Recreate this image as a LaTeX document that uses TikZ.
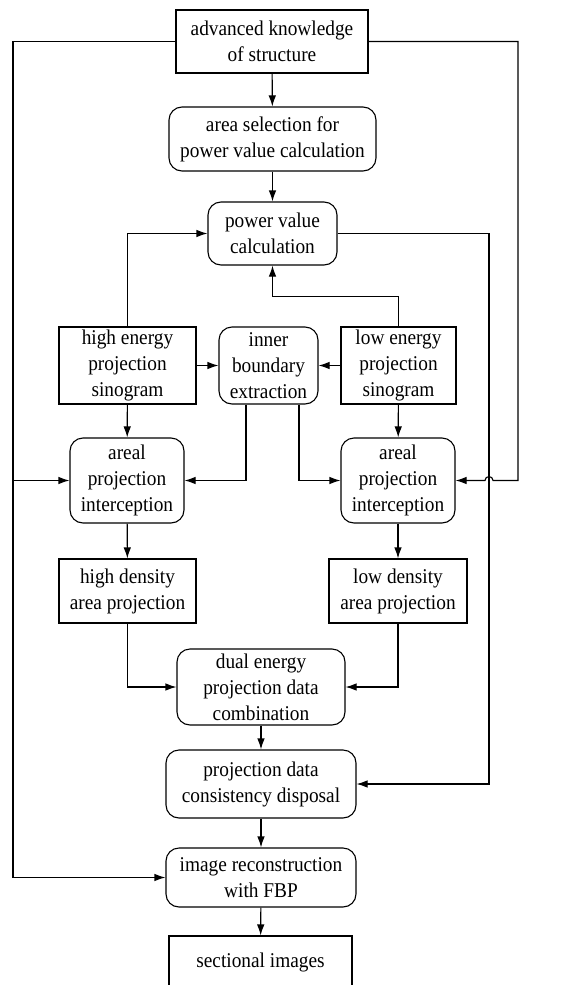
\documentclass[tikz,border=0pt]{standalone}
\usepackage{fontspec}
\setmainfont[FakeStretch=0.92]{Liberation Serif}
\usetikzlibrary{arrows.meta}
\tikzset{
  box/.style={draw, line width=1.1pt, inner sep=0pt, align=center, font=\fontsize{21}{26}\selectfont},
  rbox/.style={box, rounded corners=13pt},
  conn/.style={line width=1.1pt},
  arr/.style={conn, -{Latex[length=11pt,width=7.5pt]}}
}
\begin{document}
\begin{tikzpicture}[x=1pt,y=-1pt]
\useasboundingbox (0,0) rectangle (579,985);
\node[box, minimum width=192, minimum height=63] (k) at (272,41.5) {advanced knowledge\\of structure};
\node[rbox, minimum width=207, minimum height=64] (sel) at (272.5,139) {area selection for\\power value calculation};
\node[rbox, minimum width=129, minimum height=63] (pow) at (272.5,233.5) {power value\\calculation};
\node[box, minimum width=137, minimum height=77] (he) at (127.5,365.5) {high energy\\projection\\sinogram};
\node[rbox, minimum width=99, minimum height=77] (ib) at (268.5,365.5) {inner\\boundary\\extraction};
\node[box, minimum width=115, minimum height=77] (le) at (398.5,365.5) {low energy\\projection\\sinogram};
\node[rbox, minimum width=114, minimum height=85] (al) at (127,480.5) {areal\\projection\\interception};
\node[rbox, minimum width=114, minimum height=85] (ar) at (398,480.5) {areal\\projection\\interception};
\node[box, minimum width=137, minimum height=64] (hd) at (127.5,591) {high density\\area projection};
\node[box, minimum width=138, minimum height=64] (ld) at (398,591) {low density\\area projection};
\node[rbox, minimum width=168, minimum height=76] (de) at (261,687) {dual energy\\projection data\\combination};
\node[rbox, minimum width=190, minimum height=68] (cd) at (261,784) {projection data\\consistency disposal};
\node[rbox, minimum width=190, minimum height=59] (ir) at (261,877.5) {image reconstruction\\with FBP};
\node[box, minimum width=183, minimum height=52] (si) at (260.5,962) {sectional images};

\coordinate (lx) at (13,0);
\coordinate (rx) at (518,0);
\coordinate (mx) at (489,0);

\draw[arr] (k) -- (sel);
\draw[arr] (sel) -- (pow);
\draw[arr] (he.north) |- (pow.west);
\draw[arr] (pow.east) -| (mx |- cd.east) -- (cd.east);
\draw[arr] (le.north) -- ++(0,-30) -| (pow.south);
\draw[arr] (he.east) -- (ib.west);
\draw[arr] (le.west) -- (ib.east);
\draw[arr] (he) -- (al);
\draw[arr] (le) -- (ar);
\draw[arr] ([xshift=-22.5pt]ib.south) |- (al.east);
\draw[arr] ([xshift=30.5pt]ib.south) |- (ar.west);
\draw[arr] (k.west) -| (lx |- ir.west) -- (ir.west);
\draw[arr] (lx |- al.west) -- (al.west);
\draw[arr] (k.east) -| (rx |- ar.east) -- ([xshift=4pt]mx |- ar.east) arc[start angle=0, end angle=180, radius=4pt] -- (ar.east);
\draw[arr] (al) -- (hd);
\draw[arr] (ar) -- (ld);
\draw[arr] (hd.south) |- (de.west);
\draw[arr] (ld.south) |- (de.east);
\draw[arr] (de) -- (cd);
\draw[arr] (cd) -- (ir);
\draw[arr] (ir) -- (si);
\end{tikzpicture}
\end{document}
